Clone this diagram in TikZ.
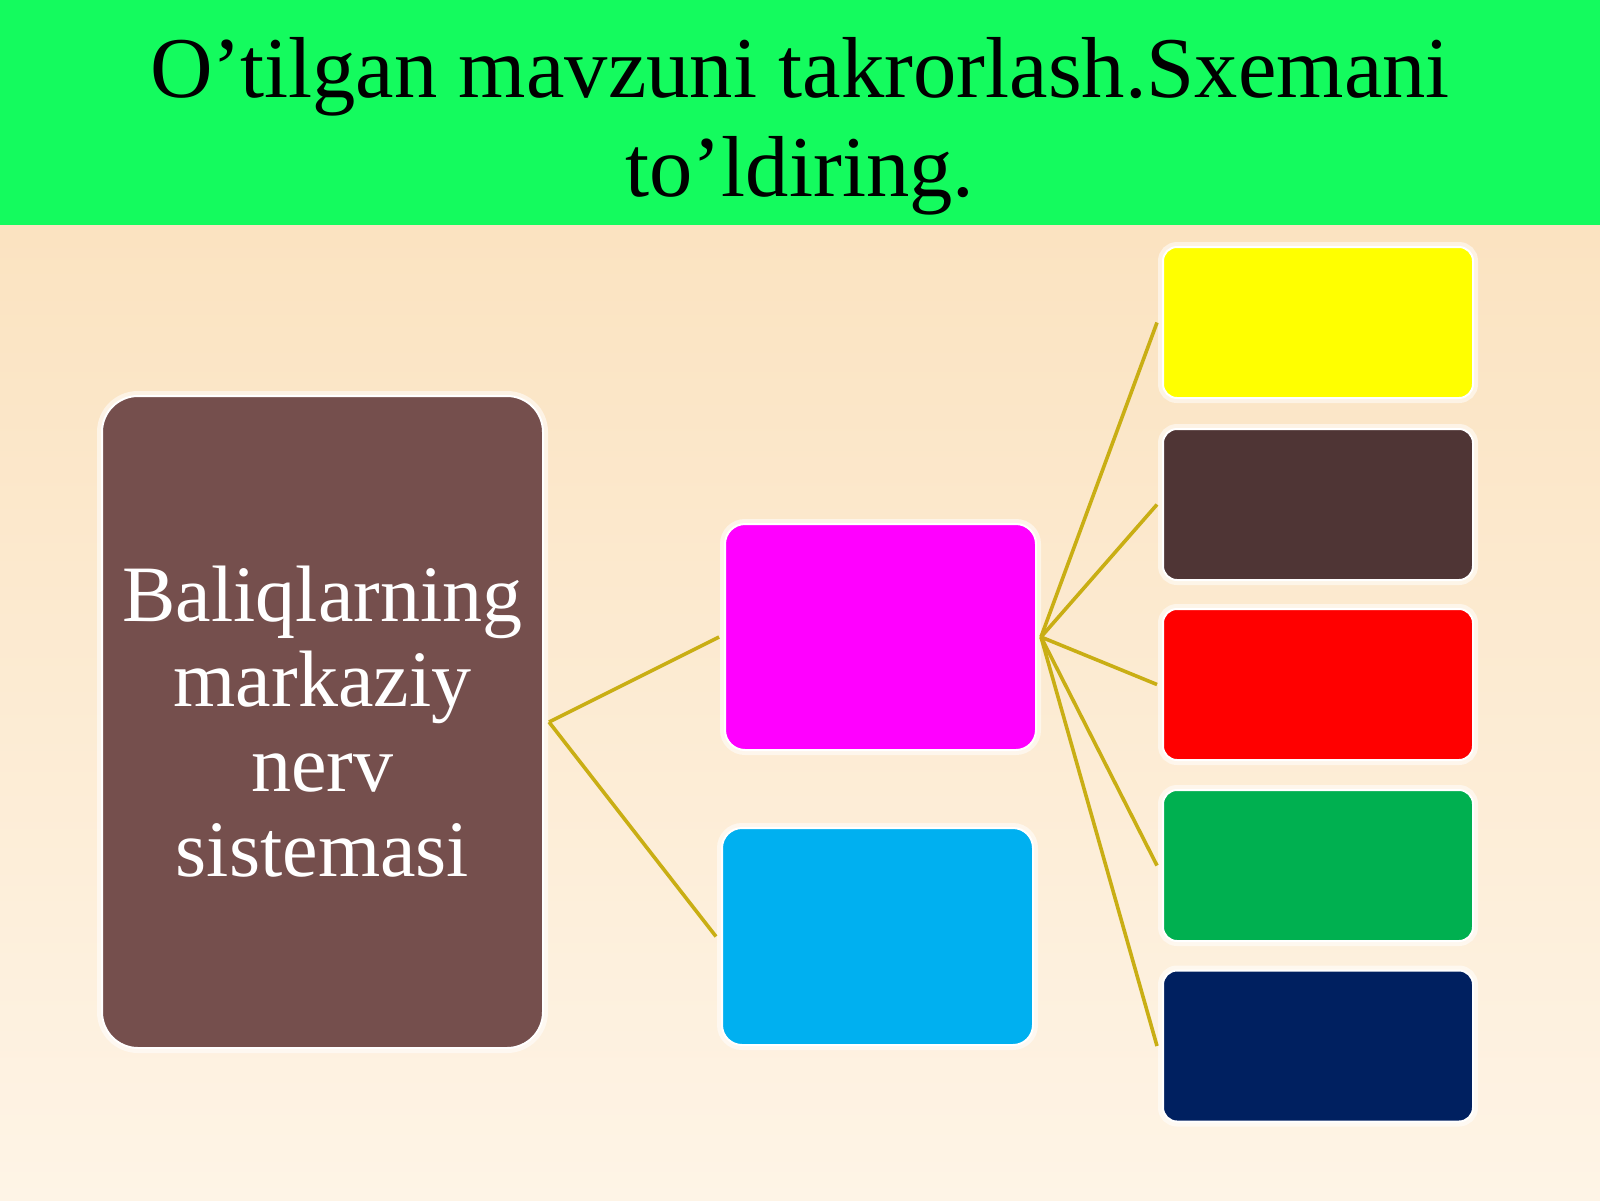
\documentclass[tikz,border=0pt]{standalone}
\usepackage{fontspec}
\setmainfont{Liberation Serif}
\definecolor{bgtop}{HTML}{FADFB8}
\definecolor{bgbot}{HTML}{FEF4E6}
\definecolor{titlegreen}{HTML}{14FB5E}
\definecolor{mainbrown}{HTML}{754F4D}
\definecolor{linkgold}{HTML}{C9AE14}
\definecolor{cmag}{HTML}{FF00FF}
\definecolor{ccyan}{HTML}{00B0F0}
\definecolor{cyel}{HTML}{FFFF00}
\definecolor{cdbrown}{HTML}{4F3535}
\definecolor{cred}{HTML}{FF0000}
\definecolor{cgreen}{HTML}{00B050}
\definecolor{cnavy}{HTML}{002060}
\tikzset{
  glowbox/.style={rectangle, inner sep=0pt, draw=white, line width=1pt,
    preaction={draw=white, line width=5pt, opacity=0.55}},
  mainbox/.style={glowbox, rounded corners=18pt, minimum width=220.5pt, minimum height=326pt,
    fill=mainbrown, text=white, align=center,
    font=\fontsize{40pt}{42.5pt}\selectfont},
  midbox/.style={glowbox, rounded corners=10pt, minimum width=155.5pt},
  rbox/.style={glowbox, rounded corners=7pt, minimum width=155pt, minimum height=75.5pt},
  link/.style={draw=linkgold, line width=1.8pt},
  titletext/.style={anchor=base, inner sep=0pt, font=\fontsize{43.3pt}{49.5pt}\selectfont}
}
\begin{document}
\begin{tikzpicture}[x=0.5pt,y=-0.5pt]
\useasboundingbox (0,0) rectangle (1600,1200);
\shade[top color=bgtop, bottom color=bgbot] (0,0) rectangle (1600,1200);
\fill[titlegreen] (0,0) rectangle (1600,225);
\node[titletext] (t1) at (800,97) {O’tilgan mavzuni takrorlash.Sxemani};
\node[titletext] (t2) at (800,196) {to’ldiring.};

\node[mainbox] (main) at (322.5,722) {Baliqlarning\\markaziy\\nerv\\sistemasi};
\node[midbox, fill=cmag, minimum height=113pt] (mag) at (880.5,637) {};
\node[midbox, fill=ccyan, minimum height=108.5pt] (cya) at (877.5,936.5) {};

\node[rbox, fill=cyel] (r1) at (1318,322.5) {};
\node[rbox, fill=cdbrown] (r2) at (1318,504.5) {};
\node[rbox, fill=cred] (r3) at (1318,684.5) {};
\node[rbox, fill=cgreen] (r4) at (1318,865.5) {};
\node[rbox, fill=cnavy] (r5) at (1318,1046) {};

\coordinate (hubL) at ([xshift=2.5pt]main.east);
\coordinate (hubR) at ([xshift=2pt]mag.east);
\draw[link] (hubL) -- ([xshift=-2.5pt]mag.west);
\draw[link] (hubL) -- ([xshift=-2.5pt]cya.west);
\foreach \r in {r1,r2,r3,r4,r5}{
  \draw[link] (hubR) -- ([xshift=-2.5pt]\r.west);
}
\end{tikzpicture}
\end{document}
